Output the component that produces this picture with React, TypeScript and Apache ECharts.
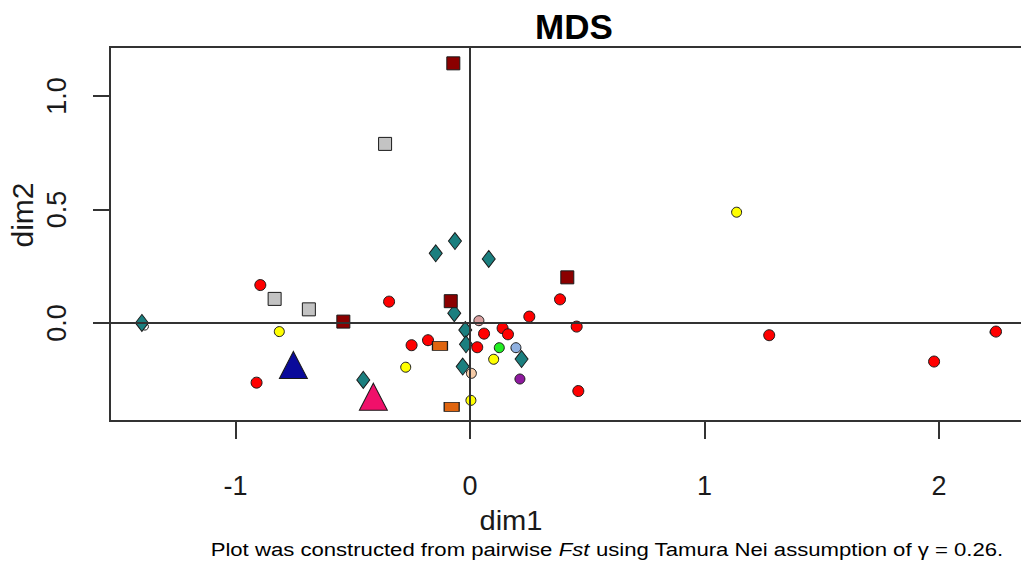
import React, { useEffect, useRef } from "react";
import * as echarts from "echarts";

const xTicks = [-1, 0, 1, 2];
const yTicks = [0, 0.5, 1.0];

const tealDiamonds = [
  [-1.399, 0.0], [-0.064, 0.361], [-0.146, 0.307], [0.08, 0.282], [-0.067, 0.043],
  [-0.02, -0.031], [-0.017, -0.094], [0.22, -0.159], [-0.031, -0.192], [-0.455, -0.251],
];
const darkRedSquares = [[-0.071, 1.144], [0.415, 0.201], [-0.082, 0.096], [-0.54, 0.006]];
const greySquares = [[-0.362, 0.789], [-0.833, 0.106], [-0.687, 0.06]];
const redCircles = [
  [-0.894, 0.167], [-0.91, -0.263], [0.384, 0.104], [-0.345, 0.094], [0.253, 0.028],
  [0.455, -0.016], [0.06, -0.047], [0.139, -0.023], [0.162, -0.05], [0.031, -0.107],
  [-0.249, -0.098], [-0.179, -0.076], [0.462, -0.3], [1.276, -0.054], [1.979, -0.17],
  [2.243, -0.038],
];
const yellowCircles = [[-0.813, -0.038], [0.101, -0.16], [-0.274, -0.195], [0.004, -0.341], [1.137, 0.488]];
const orangeRects = [[-0.128, -0.101], [-0.078, -0.37]];
const rosyCircles = [[0.038, 0.01]];
const greenCircles = [[0.125, -0.109]];
const lightBlueCircles = [[0.196, -0.109]];
const peachCircles = [[0.006, -0.222]];
const purpleCircles = [[0.213, -0.247]];
const ghostCircles = [[-1.386, -0.016], [2.232, -0.04]];
const blueTriangles = [[-0.753, -0.185]];
const pinkTriangles = [[-0.412, -0.325]];

export default function App() {
  const ref = useRef<HTMLDivElement>(null);
  useEffect(() => {
    document.body.style.overflow = "hidden";
    const chart = echarts.init(ref.current!, null, { renderer: "svg" });
    const font = "'Liberation Sans', Arial, sans-serif";
    const mk = (name: string, data: number[][], symbol: string, size: any, color: string, z: number) => ({
      type: "scatter",
      name,
      data,
      symbol,
      symbolSize: size,
      silent: true,
      z,
      itemStyle: { color, borderColor: "#1a1a1a", borderWidth: 1, opacity: 1 },
    });
    chart.setOption({
      animation: false,
      backgroundColor: "#ffffff",
      grid: {
        left: 110, top: 47, right: 0, bottom: 142,
        show: true, borderColor: "#333", borderWidth: 2, backgroundColor: "transparent",
      },
      xAxis: {
        type: "value", min: -1.535, max: 2.452,
        splitLine: { show: false },
        axisLine: { show: false, onZero: false },
        axisTick: { show: true, customValues: xTicks, length: 18, lineStyle: { color: "#333", width: 2 } },
        axisLabel: { customValues: xTicks, fontSize: 27, margin: 51, color: "#1a1a1a", fontFamily: font },
      },
      yAxis: {
        type: "value", min: -0.432, max: 1.216,
        splitLine: { show: false },
        axisLine: { show: false, onZero: false },
        axisTick: { show: true, customValues: yTicks, length: 17, lineStyle: { color: "#333", width: 2 } },
        axisLabel: {
          customValues: yTicks, fontSize: 27, margin: 40, rotate: 90, color: "#1a1a1a", fontFamily: font,
          formatter: (v: number) => v.toFixed(1),
        },
      },
      series: [
        {
          type: "scatter", data: [], z: 1, silent: true,
          markLine: {
            silent: true, symbol: "none", label: { show: false },
            lineStyle: { color: "#333", width: 2, type: "solid" },
            data: [{ xAxis: 0 }, { yAxis: 0 }],
          },
        },
        mk("ghost", ghostCircles, "circle", 7, "#ffffff", 2),
        mk("teal", tealDiamonds, "diamond", [13, 17], "#1b7f7f", 3),
        mk("darkred", darkRedSquares, "rect", 13, "#8b0000", 3),
        mk("grey", greySquares, "rect", 13, "#c3c3c3", 3),
        mk("red", redCircles, "circle", 11, "#ff0000", 4),
        mk("yellow", yellowCircles, "circle", 10, "#ffff00", 4),
        mk("orange", orangeRects, "rect", [15, 9], "#e0650f", 4),
        mk("rosy", rosyCircles, "circle", 10, "#d9a0a0", 4),
        mk("green", greenCircles, "circle", 10, "#22ee22", 4),
        mk("lightblue", lightBlueCircles, "circle", 10, "#8fb0e0", 4),
        mk("peach", peachCircles, "circle", 10, "#f5cba7", 4),
        mk("purple", purpleCircles, "circle", 10, "#8e1a9e", 4),
        mk("blue", blueTriangles, "triangle", [28, 27], "#0a0a9a", 5),
        mk("pink", pinkTriangles, "triangle", [28, 27], "#f0106a", 5),
      ],
      graphic: [
        {
          type: "text", x: 574, y: 26,
          style: { text: "MDS", font: `bold 35px ${font}`, fill: "#000", align: "center", verticalAlign: "middle" },
        },
        {
          type: "text", x: 511, y: 520, scaleX: 1.04,
          style: { text: "dim1", font: `28px ${font}`, fill: "#1a1a1a", align: "center", verticalAlign: "middle" },
        },
        {
          type: "text", x: 22, y: 215, rotation: Math.PI / 2,
          style: { text: "dim2", font: `30px ${font}`, fill: "#1a1a1a", align: "center", verticalAlign: "middle" },
        },
        {
          type: "text", x: 607, y: 550, scaleX: 1.23,
          style: {
            text: "Plot was constructed from pairwise {i|Fst} using Tamura Nei assumption of γ = 0.26.",
            font: `18px ${font}`, fill: "#000", align: "center", verticalAlign: "middle",
            rich: { i: { fontStyle: "italic", fontSize: 18, fontFamily: font, fill: "#000" } },
          },
        },
      ],
    });
    return () => chart.dispose();
  }, []);
  return <div ref={ref} style={{ position: "fixed", left: 0, top: 0, width: 1045, height: 563 }} />;
}
